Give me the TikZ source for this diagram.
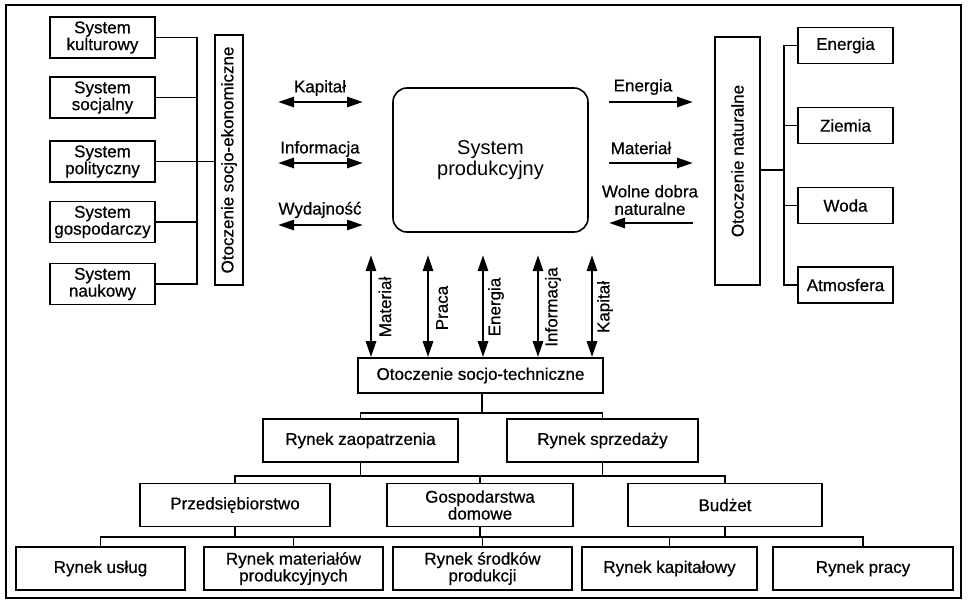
\documentclass[tikz,border=0pt]{standalone}
\usepackage{fontspec}
\setmainfont{Liberation Sans}[FakeBold=0.6]
\newfontfamily\lightsans{Liberation Sans}
\usetikzlibrary{arrows.meta}
\begin{document}
\begin{tikzpicture}[x=1pt,y=-1pt,
  txt/.style={font=\fontsize{17}{15.5}\selectfont},
  box/.style={txt, draw, line width=1.6pt, inner sep=0pt, align=center},
  link/.style={line width=1.3pt},
  lab/.style={txt, align=center, inner sep=0pt},
  tip/.tip={Triangle[length=16pt,width=10pt]},
  flow/.style={line width=2.8pt, -tip},
  both/.style={line width=2.8pt, tip-tip}]
\useasboundingbox (0,0) rectangle (968,606);
% outer frame
\draw[line width=1.2pt] (6,5) rectangle (961,598);

% ---- left column: social systems
\begin{scope}[every node/.style={box, minimum width=105pt, minimum height=41pt}]
  \node (kul) at (102.5,37.5) {System\\kulturowy};
  \node (soc) at (102.5,97.5) {System\\socjalny};
  \node (pol) at (102.5,161.5) {System\\polityczny};
  \node (gos) at (102.5,222) {System\\gospodarczy};
  \node (nau) at (102.5,284) {System\\naukowy};
\end{scope}
\node[box, rotate=90, minimum width=250pt, minimum height=28pt] (ose) at (229,160) {Otoczenie socjo-ekonomiczne};
\coordinate (lbus) at (197,0);
\draw[link] (kul.east) -- (kul.east -| lbus) -- (nau.east -| lbus) -- (nau.east);
\draw[link] (soc.east) -- (soc.east -| lbus);
\draw[link] (gos.east) -- (gos.east -| lbus);
\draw[link] (pol.east) -- (pol.east -| ose.north);

% ---- production system
\node[draw, line width=1.6pt, rounded corners=14pt, minimum width=195pt, minimum height=144pt,
      align=center, font=\lightsans\fontsize{20}{21}\selectfont] (sp) at (490.5,160) {System\\produkcyjny};

% exchanges with the socio-economic environment
\coordinate (ka1) at (278,102);  \coordinate (ka2) at (363,102);
\coordinate (in1) at (278,163);  \coordinate (in2) at (363,163);
\coordinate (wy1) at (278,225);  \coordinate (wy2) at (363,225);
\draw[both] (ka1) -- (ka2);
\draw[both] (in1) -- (in2);
\draw[both] (wy1) -- (wy2);
\node[lab] (tka) at (320,88) {Kapitał};
\node[lab] (tin) at (320,149) {Informacja};
\node[lab] (twy) at (320,210) {Wydajność};

% exchanges with the natural environment
\coordinate (en1) at (609,102);  \coordinate (en2) at (693,102);
\coordinate (ma1) at (609,163);  \coordinate (ma2) at (693,163);
\coordinate (wd1) at (609,223);  \coordinate (wd2) at (693,223);
\draw[flow] (en1) -- (en2);
\draw[flow] (ma1) -- (ma2);
\draw[flow] (wd2) -- (wd1);
\node[lab] (ten) at (643,87) {Energia};
\node[lab] (tma) at (641,148) {Materiał};
\node[lab, font=\fontsize{17}{17.5}\selectfont] (twd) at (650,200) {Wolne dobra\\naturalne};

% ---- right column: natural environment
\node[box, rotate=90, minimum width=248pt, minimum height=45pt] (on) at (737.5,161) {Otoczenie naturalne};
\begin{scope}[every node/.style={box, minimum width=95pt, minimum height=36pt}]
  \node (ene) at (845.5,45.5) {Energia};
  \node (zie) at (845.5,125.5) {Ziemia};
  \node (wod) at (845.5,205.5) {Woda};
  \node (atm) at (845.5,285) {Atmosfera};
\end{scope}
\coordinate (rbus) at (784,0);
\draw[link] (ene.west) -- (ene.west -| rbus) -- (atm.west -| rbus) -- (atm.west);
\draw[link] (zie.west) -- (zie.west -| rbus);
\draw[link] (wod.west) -- (wod.west -| rbus);
\draw[link] ([yshift=-9pt]on.south) -- ([yshift=-9pt]on.south -| rbus);

% ---- socio-technical environment
\node[box, minimum width=245pt, minimum height=35pt] (ost) at (480.5,375.5) {Otoczenie socjo-techniczne};
\coordinate (vm) at (371,255);
\coordinate (vp) at (428,255);
\coordinate (ve) at (483,255);
\coordinate (vi) at (538,255);
\coordinate (vk) at (592,255);
\draw[both] (vm) -- (vm |- ost.north);
\draw[both] (vp) -- (vp |- ost.north);
\draw[both] (ve) -- (ve |- ost.north);
\draw[both] (vi) -- (vi |- ost.north);
\draw[both] (vk) -- (vk |- ost.north);
\node[lab, rotate=90] (tvm) at (385,307) {Materiał};
\node[lab, rotate=90] (tvp) at (442,308) {Praca};
\node[lab, rotate=90] (tve) at (496,307) {Energia};
\node[lab, rotate=90] (tvi) at (553,307) {Informacja};
\node[lab, rotate=90] (tvk) at (605,307) {Kapitał};

% ---- markets and economic units
\begin{scope}[every node/.style={box, minimum height=43pt}]
  \node[minimum width=195pt] (rz) at (360.5,440.5) {Rynek zaopatrzenia};
  \node[minimum width=191pt] (rs) at (602.5,440.5) {Rynek sprzedaży};
  \node[minimum width=190pt] (pr) at (235,505) {Przedsiębiorstwo};
  \node[minimum width=186pt] (gd) at (480,505) {Gospodarstwa\\domowe};
  \node[minimum width=194pt] (bu) at (725,505) {Budżet};
  \node[minimum width=169pt] (ru) at (100.5,568.5) {Rynek usług};
  \node[minimum width=179pt] (rm) at (293.5,568.5) {Rynek materiałów\\produkcyjnych};
  \node[minimum width=179pt] (rp) at (482.5,568.5) {Rynek środków\\produkcji};
  \node[minimum width=175pt] (rk) at (669.5,568.5) {Rynek kapitałowy};
  \node[minimum width=180pt] (rpr) at (863,568.5) {Rynek pracy};
\end{scope}

% tree connectors
\coordinate (bus1) at (482,413);
\coordinate (bus2) at (482,476);
\coordinate (bus3) at (482,537);
\draw[link] (ost.south -| bus1) -- (bus1);
\draw[link] (rz.north) |- (bus1) -| (rs.north);
\draw[link] (pr.north) |- (bus2) -| (bu.north);
\draw[link] (rz.south) -- (rz.south |- bus2);
\draw[link] (rs.south) -- (rs.south |- bus2);
\draw[link] (gd.north) -- (gd.north |- bus2);
\draw[link] (ru.north) |- (bus3) -| (rpr.north);
\draw[link] (rm.north) -- (rm.north |- bus3);
\draw[link] (rp.north) -- (rp.north |- bus3);
\draw[link] (rk.north) -- (rk.north |- bus3);
\draw[link] (pr.south) -- (pr.south |- bus3);
\draw[link] (gd.south) -- (gd.south |- bus3);
\draw[link] (bu.south) -- (bu.south |- bus3);
\end{tikzpicture}
\end{document}
